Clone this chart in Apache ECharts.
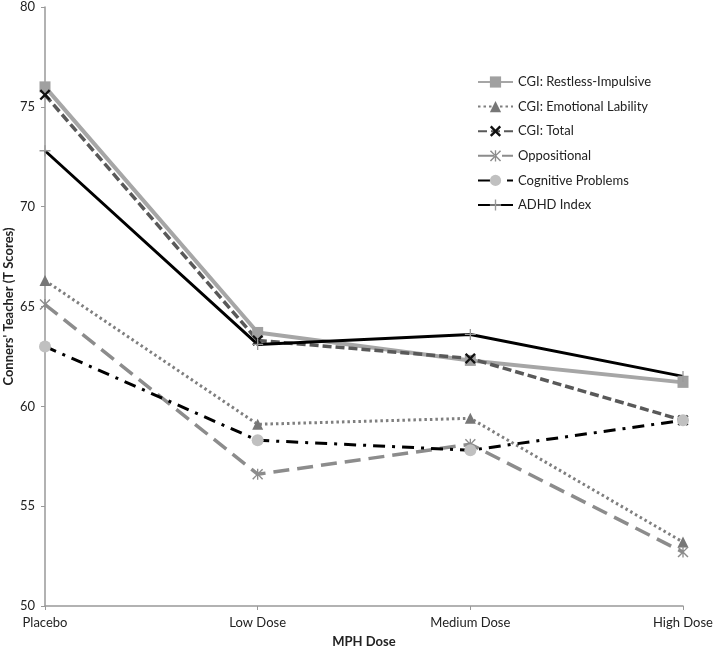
<!DOCTYPE html>
<html><head><meta charset="utf-8">
<script src="https://cdn.jsdelivr.net/npm/echarts@6/dist/echarts.min.js"></script>
<style>html,body{margin:0;padding:0;background:#fff}#c{width:714px;height:651px}</style>
</head><body><div id="c"></div>
<script>
const categories = ['Placebo', 'Low Dose', 'Medium Dose', 'High Dose'];
const restlessImpulsive = [76.0, 63.7, 62.3, 61.2];
const emotionalLability = [66.3, 59.1, 59.4, 53.2];
const cgiTotal = [75.6, 63.3, 62.4, 59.3];
const oppositional = [65.1, 56.6, 58.1, 52.7];
const cognitiveProblems = [63.0, 58.3, 57.8, 59.3];
const adhdIndex = [72.8, 63.1, 63.6, 61.5];
const yTicks = [50, 55, 60, 65, 70, 75, 80];

const font = 'Lato';
const xPath = 'path://M1.5,0 L5,3.5 L8.5,0 L10,1.5 L6.5,5 L10,8.5 L8.5,10 L5,6.5 L1.5,10 L0,8.5 L3.5,5 L0,1.5 Z';
const starPath = 'path://M1,0 L5,4.2 L9,0 L10,0.9 L5.8,5 L10,9.1 L9,10 L5,5.8 L1,10 L0,9.1 L4.2,5 L0,0.9 Z M4.4,0 H5.6 V10 H4.4 Z';
const plusPath = 'path://M4.4,0 H5.6 V4.4 H10 V5.6 H5.6 V10 H4.4 V5.6 H0 V4.4 H4.4 Z';

function mk(name, data, color, width, type, symbol, size, symColor) {
  return {
    name, type: 'line', data, symbol, symbolSize: size,
    lineStyle: { color, width, type, cap: 'butt' },
    itemStyle: { color: symColor, borderWidth: 0 },
    emphasis: { disabled: true }, z: 2
  };
}

const chart = echarts.init(document.getElementById('c'), null, { renderer: 'canvas' });
chart.setOption({
  animation: false,
  backgroundColor: '#fff',
  grid: { left: 45, right: 31, top: 7, bottom: 45, outerBoundsMode: 'none', containLabel: false },
  legend: {
    orient: 'vertical', left: 472, top: 70,
    itemWidth: 35, itemHeight: 14, itemGap: 10.6,
    textStyle: { fontFamily: font, fontSize: 13, color: '#222', lineHeight: 14 },
    data: ['CGI: Restless-Impulsive', 'CGI: Emotional Lability', 'CGI: Total', 'Oppositional', 'Cognitive Problems', 'ADHD Index']
  },
  xAxis: {
    type: 'category', data: categories, boundaryGap: false,
    name: 'MPH Dose', nameLocation: 'middle', nameGap: 29, nameMoveOverlap: false,
    nameTextStyle: { fontFamily: font, fontSize: 13, fontWeight: 'bold', color: '#222' },
    axisLine: { lineStyle: { color: '#999', width: 1.5 } },
    axisTick: { show: true, length: 4, lineStyle: { color: '#999' } },
    axisLabel: { fontFamily: font, fontSize: 13, color: '#222', margin: 10 },
    splitLine: { show: false }
  },
  yAxis: {
    type: 'value', min: 50, max: 80, interval: 5,
    name: "Conners' Teacher (T Scores)", nameLocation: 'middle', nameGap: 30, nameRotate: 90, nameMoveOverlap: false,
    nameTextStyle: { fontFamily: font, fontSize: 13, fontWeight: 'bold', color: '#222' },
    axisLine: { show: true, lineStyle: { color: '#999', width: 1.5 } },
    axisTick: { show: true, length: 4, lineStyle: { color: '#999' } },
    axisLabel: { fontFamily: font, fontSize: 13, color: '#222', margin: 10,
      formatter: v => yTicks.includes(v) ? String(v) : '' },
    splitLine: { show: false }
  },
  series: [
    mk('CGI: Restless-Impulsive', restlessImpulsive, '#a6a6a6', 4, 'solid', 'rect', 11, '#a0a0a0'),
    mk('CGI: Emotional Lability', emotionalLability, '#7f7f7f', 3, [2.5, 3], 'triangle', 11, '#777'),
    mk('CGI: Total', cgiTotal, '#595959', 3.5, [9, 4], xPath, 11, '#111'),
    mk('Oppositional', oppositional, '#8c8c8c', 3.5, [16, 8], starPath, 11, '#8c8c8c'),
    mk('Cognitive Problems', cognitiveProblems, '#000', 3, [12, 7, 3, 7], 'circle', 12, '#c0c0c0'),
    mk('ADHD Index', adhdIndex, '#000', 3, 'solid', plusPath, 11, '#999')
  ]
});
</script></body></html>
